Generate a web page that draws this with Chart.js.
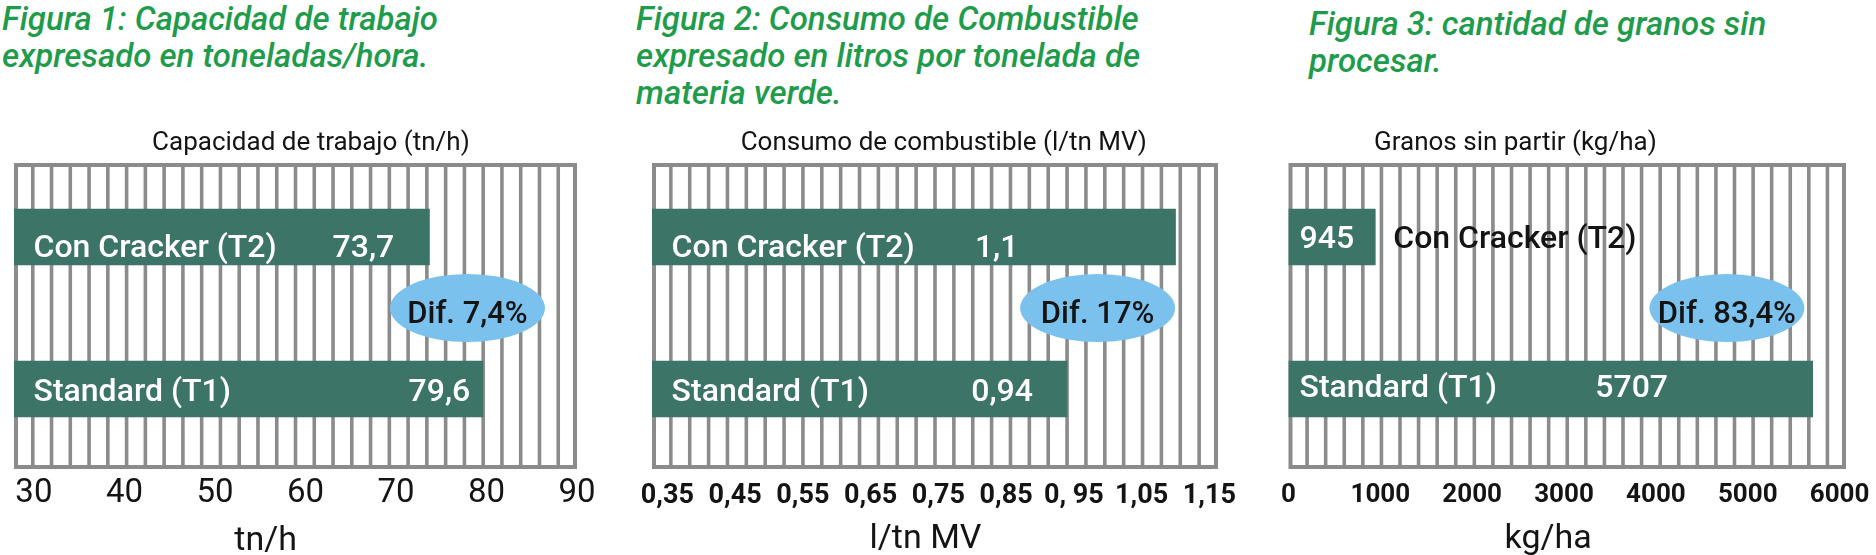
<!DOCTYPE html>
<html>
<head>
<meta charset="utf-8" />
<title>Figuras cracker</title>
<script src="https://cdn.jsdelivr.net/npm/chart.js@4.4.1/dist/chart.umd.min.js"></script>
<style>
    body{
        margin: 0;
        background: #ffffff;
        width: 1876px;
        height: 555px;
        overflow: hidden;
        position: relative;
        font-family: Roboto, "Liberation Sans", Arial, sans-serif;
    }
    .figTitle{
        position: absolute;
        color: #1e9c4c;
        font-style: italic;
        font-weight: 500;
        font-size: 33px;
        line-height: 37px;
        white-space: nowrap;
    }
    .panel{
        position: absolute;
        top: 100px;
        height: 455px;
    }
</style>
</head>
<body>
    <div class="figTitle" id="fig1" style="left:2px; top:0px;"></div>
    <div class="figTitle" id="fig2" style="left:636px; top:0px;"></div>
    <div class="figTitle" id="fig3" style="left:1309px; top:5px;"></div>

    <div class="panel" style="left:0px; width:630px;"><canvas id="chart1"></canvas></div>
    <div class="panel" style="left:630px; width:630px;"><canvas id="chart2"></canvas></div>
    <div class="panel" style="left:1260px; width:616px;"><canvas id="chart3"></canvas></div>

<script>
// ---- data ----
const categories = ['Con Cracker (T2)', 'Standard (T1)'];

const capacidad = [73.7, 79.6];
const consumo = [1.1, 0.94];
const granos = [945, 5707];

const capacidadTicks = [30, 40, 50, 60, 70, 80, 90];
const capacidadTickLabels = ['30', '40', '50', '60', '70', '80', '90'];
const consumoTicks = [0.35, 0.45, 0.55, 0.65, 0.75, 0.85, 0.95, 1.05, 1.15];
const consumoTickLabels = ['0,35', '0,45', '0,55', '0,65', '0,75', '0,85', '0, 95', '1,05', '1,15'];
const granosTicks = [0, 1000, 2000, 3000, 4000, 5000, 6000];
const granosTickLabels = ['0', '1000', '2000', '3000', '4000', '5000', '6000'];

const difLabels = ['Dif. 7,4%', 'Dif. 17%', 'Dif. 83,4%'];
const headings = ['Capacidad de trabajo (tn/h)', 'Consumo de combustible (l/tn MV)', 'Granos sin partir (kg/ha)'];
const axisTitles = ['tn/h', 'l/tn MV', 'kg/ha'];
const figureTitles = [
    ['Figura 1: Capacidad de trabajo', 'expresado en toneladas/hora.'],
    ['Figura 2: Consumo de Combustible', 'expresado en litros por tonelada de', 'materia verde.'],
    ['Figura 3: cantidad de granos sin', 'procesar.']
];

// ---- styles ----
const FONT = 'Roboto, "Liberation Sans", Arial, sans-serif';
const BAR = '#3c7467';
const STRIPE = '#8b8b8b';
const BUBBLE = '#7ac2ed';
const INK = '#141414';

figureTitles.forEach((lines, i) => {
    document.getElementById('fig' + (i + 1)).innerHTML = lines.join('<br>');
});

const fmt = v => String(v).replace('.', ',');

// striped frame behind the bars, texts and the blue bubble on top
const decor = {
    id: 'decor',
    beforeDatasetsDraw(chart, args, o) {
        const {ctx, chartArea: a} = chart;
        const top = a.top + 2, bottom = a.bottom + 4;
        ctx.save();
        ctx.strokeStyle = STRIPE;
        ctx.lineWidth = 3.6;
        for (let i = 1; i < o.stripes; i++) {
            const x = a.left + (a.right - a.left) * i / o.stripes;
            ctx.beginPath();
            ctx.moveTo(x, top);
            ctx.lineTo(x, bottom);
            ctx.stroke();
        }
        ctx.lineWidth = 4;
        ctx.strokeRect(a.left + 2, top + 2, a.right - a.left - 4, bottom - top - 4);
        ctx.restore();
    },
    afterDatasetsDraw(chart, args, o) {
        const {ctx, chartArea: a} = chart;
        const xs = chart.scales.x;
        const bars = chart.getDatasetMeta(0).data;
        const values = chart.data.datasets[0].data;
        ctx.save();

        // heading and axis title
        ctx.fillStyle = INK;
        ctx.textAlign = 'center';
        ctx.textBaseline = 'alphabetic';
        ctx.font = '26px ' + FONT;
        ctx.fillText(o.heading, xs.getPixelForValue(o.headX), a.top - 11);
        ctx.font = '34px ' + FONT;
        ctx.fillText(o.axisTitle, xs.getPixelForValue(o.axisX), a.bottom + o.axisDy);

        // difference bubble
        const cx = xs.getPixelForValue(o.difX);
        const cy = (bars[0].y + bars[1].y) / 2 - 5;
        ctx.fillStyle = BUBBLE;
        ctx.beginPath();
        ctx.ellipse(cx, cy, 77.5, 34, 0, 0, Math.PI * 2);
        ctx.fill();
        ctx.fillStyle = INK;
        ctx.font = '500 31px ' + FONT;
        ctx.fillText(o.dif, cx, cy + 15);

        // bar labels
        ctx.font = '500 32px ' + FONT;
        bars.forEach((el, i) => {
            const y = el.y + o.dy[i];
            const base = a.left;
            ctx.textAlign = 'left';
            if (o.outside[i]) {
                ctx.fillStyle = '#ffffff';
                ctx.fillText(fmt(values[i]), base + o.nameDx, y);
                ctx.fillStyle = INK;
                ctx.fillText(chart.data.labels[i], el.x + 18, y);
            } else {
                ctx.fillStyle = '#ffffff';
                ctx.fillText(chart.data.labels[i], base + o.nameDx, y);
                ctx.textAlign = 'center';
                ctx.fillText(fmt(values[i]), xs.getPixelForValue(o.valueX[i]), y);
            }
        });
        ctx.restore();
    }
};

function makeChart(id, values, scale, pad, tickFont, decorOpts) {
    return new Chart(document.getElementById(id), {
        type: 'bar',
        data: {
            labels: categories,
            datasets: [{
                data: values,
                backgroundColor: BAR,
                borderWidth: 0,
                barThickness: 56
            }]
        },
        options: {
            indexAxis: 'y',
            animation: false,
            responsive: true,
            maintainAspectRatio: false,
            layout: { padding: { left: pad.left, right: pad.right, top: 61, bottom: 0 } },
            plugins: {
                legend: { display: false },
                tooltip: { enabled: false },
                decor: decorOpts
            },
            scales: {
                y: { display: false },
                x: {
                    type: 'linear',
                    min: scale.min,
                    max: scale.max,
                    grid: { display: false, drawTicks: false },
                    border: { display: false },
                    afterBuildTicks: s => { s.ticks = scale.ticks.map(v => ({ value: v })); },
                    afterFit: s => { s.height = 90; s.paddingLeft = 0; s.paddingRight = 0; },
                    ticks: {
                        autoSkip: false,
                        maxRotation: 0,
                        padding: tickFont.padding,
                        color: INK,
                        font: { family: FONT, size: tickFont.size, weight: tickFont.weight },
                        callback: (v, i) => scale.labels[i]
                    }
                }
            }
        },
        plugins: [decor]
    });
}

makeChart('chart1', capacidad,
    { min: 27.8, max: 90.0, ticks: capacidadTicks, labels: capacidadTickLabels },
    { left: 14, right: 53 },
    { size: 33, weight: 'normal', padding: 9 },
    { stripes: 30, heading: headings[0], headX: 60.6, axisTitle: axisTitles[0], axisX: 55.6, axisDy: 85,
      dif: difLabels[0], difX: 77.9, valueX: [66.4, 74.8], nameDx: 19.5, dy: [20, 12], outside: [false, false] });

makeChart('chart2', consumo,
    { min: 0.3273, max: 1.1627, ticks: consumoTicks, labels: consumoTickLabels },
    { left: 22, right: 42 },
    { size: 27, weight: 'bold', padding: 15 },
    { stripes: 30, heading: headings[1], headX: 0.758, axisTitle: axisTitles[1], axisX: 0.731, axisDy: 83,
      dif: difLabels[1], difX: 0.985, valueX: [0.836, 0.844], nameDx: 19.6, dy: [20, 12], outside: [false, false] });

makeChart('chart3', granos,
    { min: 0, max: 6070, ticks: granosTicks, labels: granosTickLabels },
    { left: 28.5, right: 30 },
    { size: 26, weight: 'bold', padding: 15 },
    { stripes: 30, heading: headings[2], headX: 2470, axisTitle: axisTitles[2], axisX: 2827, axisDy: 83,
      dif: difLabels[2], difX: 4773, valueX: [null, 3736], nameDx: 11, dy: [11, 8], outside: [true, false] });
</script>
</body>
</html>
